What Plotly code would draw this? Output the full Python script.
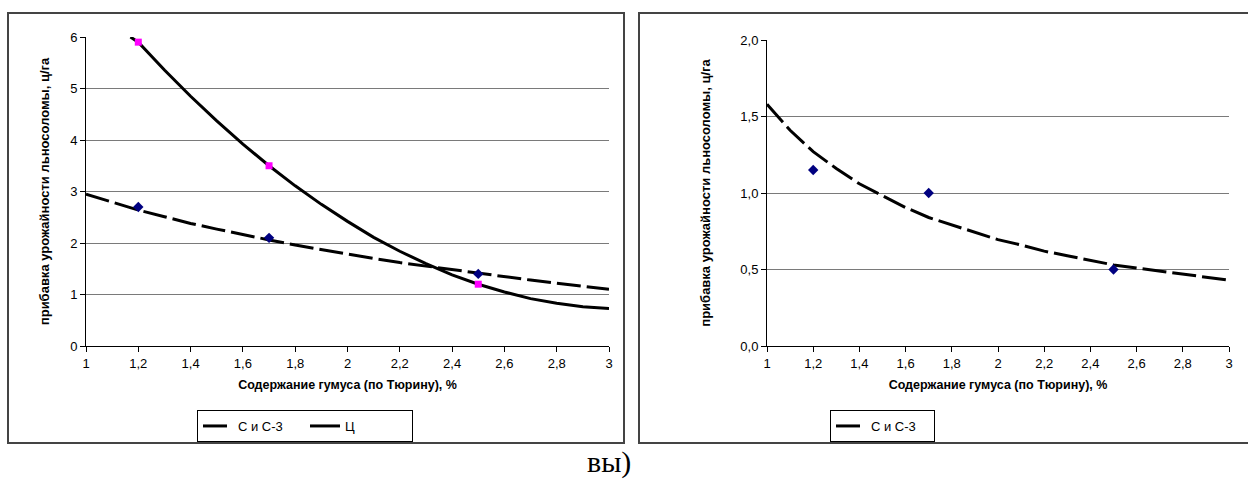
import plotly.graph_objects as go

# ---- data ----
humus = [1.2, 1.7, 2.5]
left_sc3 = [2.7, 2.1, 1.4]
left_c = [5.9, 3.5, 1.2]
right_sc3 = [1.15, 1.0, 0.5]

trend_x = [1.0, 1.1, 1.2, 1.3, 1.4, 1.5, 1.6, 1.7, 1.8, 1.9, 2.0,
           2.1, 2.2, 2.3, 2.4, 2.5, 2.6, 2.7, 2.8, 2.9, 3.0]
left_sc3_trend = [2.95, 2.79, 2.64, 2.51, 2.38, 2.27, 2.16, 2.06, 1.96, 1.87, 1.78,
                  1.70, 1.62, 1.55, 1.48, 1.41, 1.34, 1.28, 1.22, 1.16, 1.10]
c_trend_x = [1.17, 1.2, 1.3, 1.4, 1.5, 1.6, 1.7, 1.8, 1.9, 2.0,
             2.1, 2.2, 2.3, 2.4, 2.5, 2.6, 2.7, 2.8, 2.9, 3.0]
left_c_trend = [6.0, 5.9, 5.36, 4.85, 4.37, 3.92, 3.5, 3.11, 2.75, 2.42,
                2.11, 1.84, 1.60, 1.38, 1.20, 1.05, 0.92, 0.83, 0.76, 0.73]
right_sc3_trend = [1.58, 1.41, 1.27, 1.16, 1.06, 0.98, 0.905, 0.84, 0.79, 0.74, 0.695,
                   0.66, 0.62, 0.59, 0.56, 0.53, 0.51, 0.49, 0.47, 0.45, 0.43]

x_ticks = [1.0, 1.2, 1.4, 1.6, 1.8, 2.0, 2.2, 2.4, 2.6, 2.8, 3.0]
x_ticklabels = ["1", "1,2", "1,4", "1,6", "1,8", "2", "2,2", "2,4", "2,6", "2,8", "3"]
left_yticks = [0, 1, 2, 3, 4, 5, 6]
right_yticks = [0.0, 0.5, 1.0, 1.5, 2.0]
right_yticklabels = ["0,0", "0,5", "1,0", "1,5", "2,0"]

x_title = "Содержание гумуса (по Тюрину), %"
y_title = "прибавка урожайности льносоломы, ц/га"

W, H = 1248, 487
def px(x):
    return x / W
def py(y):
    return 1 - y / H

DASH = "24px,6px"
FONT = "Liberation Sans, Arial, sans-serif"

fig = go.Figure()

# left chart
fig.add_trace(go.Scatter(x=trend_x, y=left_sc3_trend, mode="lines", name="С и С-3",
                         line=dict(color="black", width=3, dash=DASH),
                         xaxis="x", yaxis="y", legend="legend"))
fig.add_trace(go.Scatter(x=c_trend_x, y=left_c_trend, mode="lines", name="Ц",
                         line=dict(color="black", width=3),
                         xaxis="x", yaxis="y", legend="legend"))
fig.add_trace(go.Scatter(x=humus, y=left_sc3, mode="markers", showlegend=False,
                         marker=dict(symbol="diamond", color="#000080", size=8),
                         xaxis="x", yaxis="y"))
fig.add_trace(go.Scatter(x=humus, y=left_c, mode="markers", showlegend=False,
                         marker=dict(symbol="square", color="#FF00FF", size=7),
                         xaxis="x", yaxis="y"))

# right chart
fig.add_trace(go.Scatter(x=trend_x, y=right_sc3_trend, mode="lines", name="С и С-3",
                         line=dict(color="black", width=3, dash=DASH),
                         xaxis="x2", yaxis="y2", legend="legend2"))
fig.add_trace(go.Scatter(x=humus, y=right_sc3, mode="markers", showlegend=False,
                         marker=dict(symbol="diamond", color="#000080", size=8),
                         xaxis="x2", yaxis="y2"))

axis_common = dict(showline=True, linecolor="black", linewidth=1, ticks="outside",
                   ticklen=5, tickcolor="black", zeroline=False,
                   tickfont=dict(family=FONT, size=13, color="black"))

xaxis_common = dict(axis_common, range=[1, 3], tickvals=x_ticks, ticktext=x_ticklabels,
                    showgrid=False,
                    title=dict(text=x_title, standoff=10,
                               font=dict(family=FONT, size=12.5, color="black", weight="bold")))

ytitle_font = dict(family=FONT, size=13, color="black", weight="bold")

fig.update_layout(
    width=W, height=H,
    margin=dict(l=0, r=0, t=0, b=0, autoexpand=False),
    paper_bgcolor="white", plot_bgcolor="white",
    xaxis=dict(xaxis_common, domain=[px(86), px(609)], anchor="y"),
    yaxis=dict(axis_common, domain=[py(346), py(37)], anchor="x", range=[0, 6],
               tickvals=left_yticks, showgrid=True, gridcolor="#7a7a7a", gridwidth=1,
               title=dict(text=y_title, standoff=17, font=ytitle_font)),
    xaxis2=dict(xaxis_common, domain=[px(767), px(1229)], anchor="y2"),
    yaxis2=dict(axis_common, domain=[py(346), py(40)], anchor="x2", range=[0, 2],
                tickvals=right_yticks, ticktext=right_yticklabels,
                showgrid=True, gridcolor="#7a7a7a", gridwidth=1,
                title=dict(text=y_title, standoff=26, font=ytitle_font)),
    legend=dict(orientation="h", x=px(197), xanchor="left", y=py(410), yanchor="top",
                bordercolor="black", borderwidth=1, bgcolor="white",
                font=dict(family=FONT, size=13, color="black"),
                itemwidth=30, entrywidth=62, entrywidthmode="pixels", tracegroupgap=0),
    legend2=dict(orientation="h", x=px(830), xanchor="left", y=py(410), yanchor="top",
                 bordercolor="black", borderwidth=1, bgcolor="white",
                 font=dict(family=FONT, size=13, color="black"),
                 itemwidth=30, entrywidth=58, entrywidthmode="pixels"),
    shapes=[
        dict(type="rect", xref="paper", yref="paper", x0=px(8), x1=px(624),
             y0=py(443), y1=py(13), line=dict(color="#444444", width=2)),
        dict(type="rect", xref="paper", yref="paper", x0=px(639), x1=px(1252),
             y0=py(443), y1=py(13), line=dict(color="#444444", width=2)),
    ],
    annotations=[
        dict(text="вы)", xref="paper", yref="paper", x=px(585), y=py(462),
             xanchor="left", yanchor="middle", showarrow=False,
             font=dict(family="Liberation Serif, Times New Roman, serif", size=30, color="black")),
    ],
)

fig.write_html("out.html")
